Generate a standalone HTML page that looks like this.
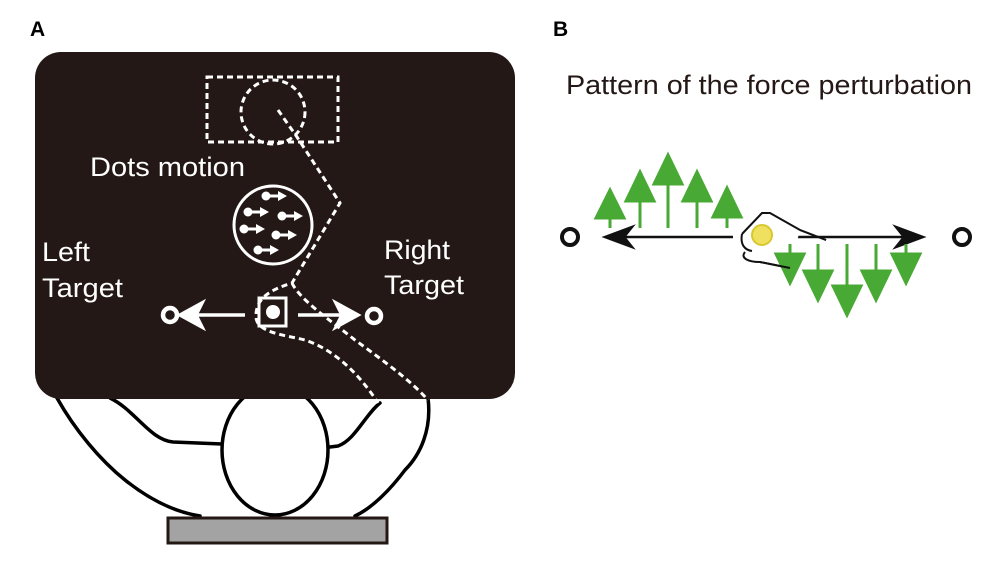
<!DOCTYPE html>
<html><head><style>
html,body{margin:0;padding:0;background:#fff;width:1000px;height:561px;overflow:hidden}
</style></head><body>
<svg width="1000" height="561" viewBox="0 0 1000 561" xmlns="http://www.w3.org/2000/svg" font-family="Liberation Sans, sans-serif">
<rect width="1000" height="561" fill="#fff"/>
<text x="30" y="36" font-size="21" font-weight="bold">A</text>
<text x="553" y="36" font-size="21" font-weight="bold">B</text>
<!-- arms -->
<g fill="none" stroke="#000" stroke-width="3.5" stroke-linecap="round">
<path d="M57,398 C75,430 100,460 125,480 C150,500 175,512 200,516"/>
<path d="M110,398 C135,410 150,440 173,442 L222,444"/>
<path d="M330,447 L338,446 C355,440 365,415 380,403"/>
<path d="M428,398 C432,430 420,455 405,470 C390,490 372,508 355,516"/>
</g>
<ellipse cx="275" cy="450" rx="53" ry="65" fill="#fff" stroke="#000" stroke-width="3.5"/>
<rect x="168" y="518" width="219" height="25" fill="#a3a3a3" stroke="#231815" stroke-width="3"/>
<!-- screen -->
<rect x="35" y="52" width="480" height="347" rx="26" fill="#231815"/>
<g fill="none" stroke="#fff" stroke-width="3" stroke-dasharray="6,4">
<rect x="207" y="77" width="131" height="65"/>
<circle cx="273" cy="112" r="32"/>
<path d="M278,110 L297,137 L340,203 L292,283 C270,290 255,298 256,318 C258,333 285,335 305,340 C335,350 360,375 378,403"/>
<path d="M292,283 C300,300 330,320 355,340 C385,362 410,380 428,400"/>
</g>
<g fill="#fff" font-size="27">
<text x="90" y="176" textLength="155" lengthAdjust="spacingAndGlyphs">Dots motion</text>
<text x="42" y="261" textLength="48" lengthAdjust="spacingAndGlyphs">Left</text>
<text x="42" y="297" textLength="81" lengthAdjust="spacingAndGlyphs">Target</text>
<text x="384" y="259" textLength="66" lengthAdjust="spacingAndGlyphs">Right</text>
<text x="384" y="294" textLength="80" lengthAdjust="spacingAndGlyphs">Target</text>
</g>
<circle cx="273" cy="225" r="39" fill="none" stroke="#fff" stroke-width="3"/>
<g fill="#fff" stroke="#fff" stroke-width="3">
<g id="da"><circle cx="0" cy="0" r="4.5" stroke="none"/><line x1="4" y1="0" x2="14" y2="0"/><path d="M12,-5 L21,0 L12,5Z" stroke="none"/></g>
<use href="#da" x="266" y="196"/>
<use href="#da" x="248" y="212"/>
<use href="#da" x="282" y="216"/>
<use href="#da" x="244" y="229"/>
<use href="#da" x="276" y="235"/>
<use href="#da" x="258" y="250"/>
</g>
<!-- hand square & arrows -->
<rect x="259" y="298" width="27" height="28" fill="none" stroke="#fff" stroke-width="3"/>
<circle cx="273" cy="312" r="7" fill="#fff"/>
<g stroke="#fff" stroke-width="3.5" fill="#fff">
<line x1="245" y1="315" x2="195" y2="315"/><path d="M180,315 L202,303 L196,315 L202,327Z"/>
<line x1="298" y1="315" x2="345" y2="315"/><path d="M358,315 L336,303 L342,315 L336,327Z"/>
</g>
<circle cx="170" cy="315" r="7" fill="none" stroke="#fff" stroke-width="4.5"/>
<circle cx="374" cy="316" r="7" fill="none" stroke="#fff" stroke-width="4.5"/>
<!-- panel B -->
<text x="566" y="94" font-size="27" fill="#231815" textLength="406" lengthAdjust="spacingAndGlyphs">Pattern of the force perturbation</text>
<circle cx="570" cy="237" r="8" fill="none" stroke="#111" stroke-width="4"/>
<circle cx="962" cy="237" r="8" fill="none" stroke="#111" stroke-width="4"/>
<g stroke="#111" stroke-width="2.5" fill="#111">
<line x1="733" y1="237" x2="615" y2="237"/><path d="M605,237 L632,227 L624,237 L632,247Z"/>
<line x1="795" y1="237" x2="913" y2="237"/><path d="M923,237 L896,227 L904,237 L896,247Z"/>
</g>
<path d="M742,234 L762,213 L770,213 L800,230 L790,268 L760,262 C748,262 740,258 745,252 Z" fill="#fff" stroke="none"/>
<path d="M742,234 L762,213 L770,213 L800,230 L826,240 M742,234 C740,245 745,250 752,251 M745,252 C740,258 748,262 760,262 L790,268" fill="none" stroke="#111" stroke-width="2"/>
<circle cx="762" cy="235" r="10" fill="#f0e060" stroke="#d8c830" stroke-width="2"/>
<g fill="#48aa34" stroke="#48aa34" stroke-width="3">
<line x1="610" y1="228" x2="610" y2="200"/><path d="M596,218 L610,190 L624,218Z"/>
<line x1="640" y1="228" x2="640" y2="185"/><path d="M626,201 L640,172 L654,201Z"/>
<line x1="668" y1="228" x2="668" y2="165"/><path d="M654,184 L668,155 L682,184Z"/>
<line x1="697" y1="228" x2="697" y2="185"/><path d="M683,201 L697,172 L711,201Z"/>
<line x1="727" y1="228" x2="727" y2="200"/><path d="M713,217 L727,188 L741,217Z"/>
<line x1="790" y1="244" x2="790" y2="262"/><path d="M776,254 L790,283 L804,254Z"/>
<line x1="818" y1="244" x2="818" y2="280"/><path d="M804,271 L818,300 L832,271Z"/>
<line x1="847" y1="244" x2="847" y2="295"/><path d="M833,286 L847,315 L861,286Z"/>
<line x1="876" y1="244" x2="876" y2="280"/><path d="M862,271 L876,300 L890,271Z"/>
<line x1="906" y1="244" x2="906" y2="262"/><path d="M892,254 L906,283 L920,254Z"/>
</g>
<path d="M800,230 L826,240 M760,262 L790,268" fill="none" stroke="#111" stroke-width="2"/>
</svg>
</body></html>
